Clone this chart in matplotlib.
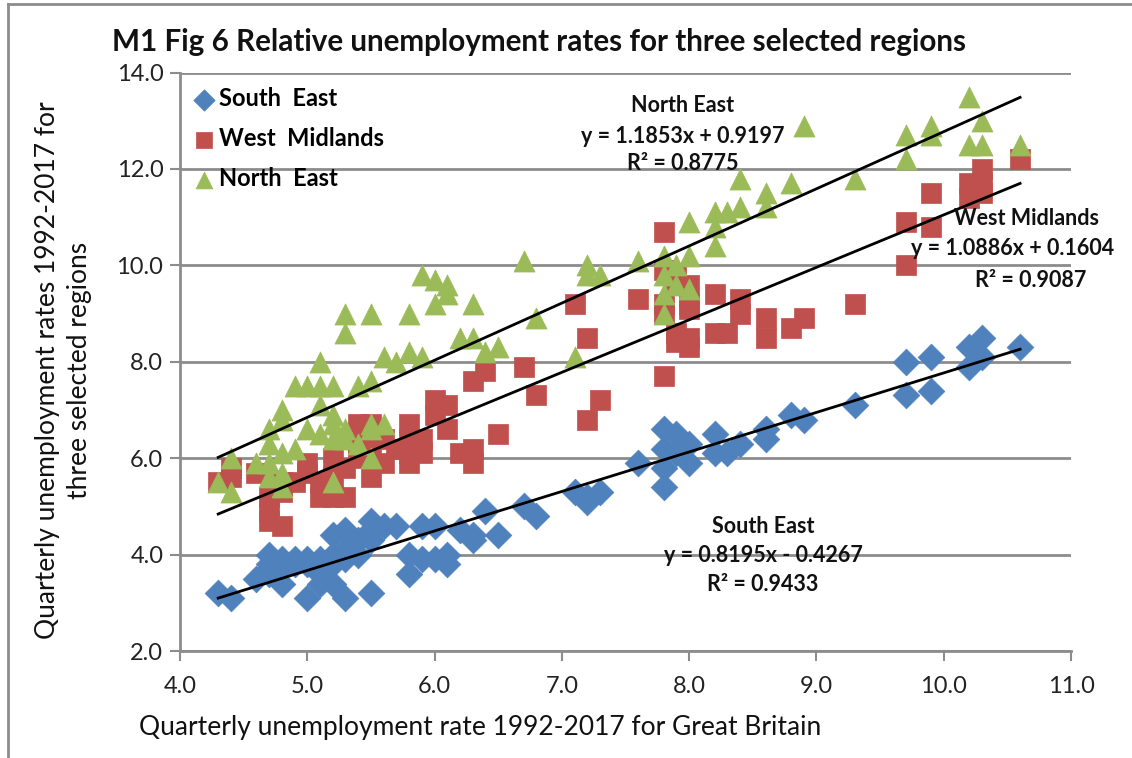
import numpy as np
import matplotlib
matplotlib.use('Agg')
import matplotlib.pyplot as plt
from matplotlib.lines import Line2D

plt.rcParams['font.family'] = ['Lato', 'DejaVu Sans']

# 各地区季度失业率 (x: 英国整体, y: 地区)
se_x = [4.3, 4.4, 4.6, 4.7, 4.7, 4.7, 4.7, 4.8, 4.8, 4.8, 4.9, 4.9, 5.0, 5.0, 5.0,
        5.1, 5.1, 5.1, 5.2, 5.2, 5.2, 5.2, 5.3, 5.3, 5.3, 5.3, 5.4, 5.4, 5.5, 5.5,
        5.5, 5.5, 5.6, 5.7, 5.8, 5.8, 5.9, 5.9, 6.0, 6.0, 6.1, 6.1, 6.2, 6.3, 6.3,
        6.4, 6.5, 6.7, 6.8, 7.1, 7.2, 7.2, 7.3, 7.6, 7.8, 7.8, 7.8, 7.8, 7.9, 7.9,
        8.0, 8.0, 8.2, 8.2, 8.3, 8.4, 8.6, 8.6, 8.8, 8.9, 9.3, 9.7, 9.7, 9.9, 9.9,
        10.2, 10.2, 10.3, 10.3, 10.6]
se_y = [3.2, 3.1, 3.5, 3.7, 3.8, 4.0, 3.6, 3.9, 3.4, 3.7, 3.8, 3.9, 3.1, 3.9, 3.8,
        3.4, 3.9, 3.6, 3.4, 4.4, 4.0, 3.8, 3.1, 4.5, 4.1, 3.9, 4.3, 4.0, 3.2, 4.7,
        4.3, 4.5, 4.6, 4.6, 3.6, 4.0, 3.9, 4.6, 3.9, 4.6, 3.8, 4.0, 4.5, 4.3, 4.4,
        4.9, 4.4, 5.0, 4.8, 5.3, 5.1, 5.2, 5.3, 5.9, 5.4, 5.8, 6.2, 6.6, 6.5, 6.1,
        5.9, 6.3, 6.5, 6.1, 6.1, 6.3, 6.4, 6.6, 6.9, 6.8, 7.1, 7.3, 8.0, 7.4, 8.1,
        7.9, 8.3, 8.1, 8.5, 8.3]

wm_x = [4.3, 4.4, 4.4, 4.6, 4.7, 4.7, 4.7, 4.8, 4.8, 4.8, 4.9, 5.0, 5.0, 5.1, 5.1,
        5.2, 5.2, 5.2, 5.3, 5.3, 5.4, 5.4, 5.4, 5.5, 5.5, 5.5, 5.6, 5.6, 5.7, 5.8,
        5.8, 5.8, 5.8, 5.9, 5.9, 6.0, 6.0, 6.1, 6.1, 6.2, 6.3, 6.3, 6.3, 6.4, 6.5,
        6.7, 6.8, 7.1, 7.2, 7.2, 7.3, 7.6, 7.8, 7.8, 7.8, 7.8, 7.8, 7.9, 7.9, 7.9,
        7.9, 8.0, 8.0, 8.0, 8.0, 8.0, 8.2, 8.2, 8.3, 8.4, 8.4, 8.6, 8.6, 8.8, 8.9,
        9.3, 9.7, 9.7, 9.9, 9.9, 10.2, 10.2, 10.3, 10.3, 10.3, 10.6]
wm_y = [5.5, 5.6, 5.8, 5.7, 4.9, 4.7, 5.2, 4.6, 5.3, 5.5, 5.5, 5.7, 5.9, 5.2, 5.5,
        5.2, 5.6, 6.0, 5.2, 5.8, 6.7, 6.3, 6.0, 5.6, 6.7, 6.2, 5.9, 6.4, 6.2, 5.9,
        6.1, 6.7, 6.4, 6.4, 6.1, 7.2, 6.9, 7.1, 6.6, 6.1, 5.9, 6.2, 7.6, 7.8, 6.5,
        7.9, 7.3, 9.2, 8.5, 6.8, 7.2, 9.3, 7.7, 9.2, 9.0, 9.9, 10.7, 9.6, 8.6, 8.4,
        9.8, 9.2, 8.5, 8.3, 9.6, 9.1, 9.4, 8.6, 8.6, 9.3, 9.0, 8.9, 8.5, 8.7, 8.9,
        9.2, 10.0, 10.9, 10.8, 11.5, 11.4, 11.7, 11.7, 12.0, 11.5, 12.2]

ne_x = [4.3, 4.4, 4.4, 4.6, 4.7, 4.7, 4.7, 4.7, 4.8, 4.8, 4.8, 4.8, 4.8, 4.9, 4.9,
        5.0, 5.0, 5.1, 5.1, 5.1, 5.1, 5.2, 5.2, 5.2, 5.2, 5.2, 5.3, 5.3, 5.3, 5.3,
        5.4, 5.4, 5.5, 5.5, 5.5, 5.5, 5.5, 5.6, 5.6, 5.7, 5.8, 5.8, 5.9, 5.9, 6.0,
        6.0, 6.1, 6.1, 6.2, 6.3, 6.3, 6.4, 6.5, 6.7, 6.8, 7.1, 7.2, 7.2, 7.3, 7.6,
        7.8, 7.8, 7.8, 7.8, 7.9, 7.9, 8.0, 8.0, 8.0, 8.2, 8.2, 8.2, 8.3, 8.4, 8.4,
        8.6, 8.6, 8.8, 8.9, 9.3, 9.7, 9.7, 9.9, 9.9, 10.2, 10.2, 10.3, 10.3, 10.6]
ne_y = [5.5, 6.0, 5.3, 5.9, 5.9, 5.6, 6.3, 6.6, 5.7, 5.4, 6.1, 7.0, 6.8, 6.2, 7.5,
        6.6, 7.5, 6.5, 7.1, 7.5, 8.0, 6.4, 6.7, 6.9, 7.5, 5.5, 6.4, 6.6, 8.6, 9.0,
        6.3, 7.5, 6.0, 6.6, 6.7, 7.6, 9.0, 6.7, 8.1, 8.0, 8.2, 9.0, 8.1, 9.8, 9.7,
        9.2, 9.6, 9.4, 8.5, 9.2, 8.5, 8.2, 8.3, 10.1, 8.9, 8.1, 10.0, 9.8, 9.8, 10.1,
        10.2, 9.8, 9.4, 9.0, 10.0, 9.6, 10.9, 10.2, 9.5, 11.1, 10.8, 10.4, 11.1, 11.8, 11.2,
        11.5, 11.2, 11.7, 12.9, 11.8, 12.7, 12.2, 12.9, 12.7, 13.5, 12.5, 13.0, 12.5, 12.5]

regions = ['South  East', 'West  Midlands', 'North  East']
fit_names = ['South East', 'West Midlands', 'North East']
slopes = [0.8195, 1.0886, 1.1853]
intercepts = [-0.4267, 0.1604, 0.9197]
r2 = [0.9433, 0.9087, 0.8775]

colors = ['#4F81BD', '#C0504D', '#9BBB59']
markers = ['D', 's', '^']
msize = [185, 215, 230]

fig = plt.figure(figsize=(11.32, 7.58), dpi=100)
ax = fig.add_axes([180/1132, 1-651/758, (1071-180)/1132, (651-72.5)/758])

# 网格与坐标轴
grid_c = '#8C8C8C'
ax.set_xlim(4, 11)
ax.set_ylim(2, 14)
ax.set_xticks(np.arange(4, 11.01, 1))
ax.set_yticks(np.arange(2, 14.01, 2))
ax.xaxis.set_major_formatter(plt.FormatStrFormatter('%.1f'))
ax.yaxis.set_major_formatter(plt.FormatStrFormatter('%.1f'))
ax.grid(axis='y', color=grid_c, lw=2)
ax.set_axisbelow(True)
for s in ['top', 'right']:
    ax.spines[s].set_visible(False)
for s in ['left', 'bottom']:
    ax.spines[s].set_color(grid_c)
    ax.spines[s].set_linewidth(2)
ax.tick_params(axis='both', colors=grid_c, width=1.5, length=7, labelsize=17,
               labelcolor='#222222')
ax.tick_params(axis='x', pad=11)
ax.tick_params(axis='y', pad=5)

# 散点
data = [(se_x, se_y), (wm_x, wm_y), (ne_x, ne_y)]
for (xs, ys), c, m, s, lab in zip(data, colors, markers, msize, regions):
    ax.scatter(xs, ys, s=s, marker=m, color=c, edgecolors=c, linewidths=0.5,
               label=lab, zorder=3, clip_on=False)

# 线性趋势线
for (xs, ys), k, b in zip(data, slopes, intercepts):
    tx = np.array([min(xs), max(xs)])
    ax.plot(tx, k*tx + b, color='black', lw=2, zorder=4)

def eq(k, b):
    sign = '+' if b >= 0 else '-'
    return 'y = %.4fx %s %.4f' % (k, sign, abs(b))

tfont = dict(fontsize=15.5, fontweight='bold', color='#111111', zorder=5)

def put(x, y, s):
    ax.text(x, y, s, ha='center', va='center', clip_on=False, **tfont)

put(7.95, 13.31, fit_names[2])
put(7.95, 12.68, eq(slopes[2], intercepts[2]))
put(7.95, 12.12, 'R² = %.4f' % r2[2])
put(10.65, 10.98, fit_names[1])
put(10.54, 10.34, eq(slopes[1], intercepts[1]))
put(10.68, 9.68, 'R² = %.4f' % r2[1])
put(8.58, 4.59, fit_names[0])
put(8.58, 3.99, eq(slopes[0], intercepts[0]))
put(8.58, 3.37, 'R² = %.4f' % r2[0])

leg = ax.legend(loc='upper left', bbox_to_anchor=(0.0, 0.995), frameon=False,
                prop={'weight': 'bold', 'size': 17}, handletextpad=0.15,
                handlelength=1.0, labelspacing=0.72, borderaxespad=0.3,
                scatterpoints=1, markerscale=0.8, borderpad=0.2)

fig.text(112/1132, 1-42/758, 'M1 Fig 6 Relative unemployment rates for three selected regions',
         fontsize=21.3, fontweight='bold', va='center', ha='left', color='#111111')
fig.text(480/1132, 1-727/758, 'Quarterly unemployment rate 1992-2017 for Great Britain',
         fontsize=19, va='center', ha='center', color='#111111')
fig.text(64/1132, 1-370/758, 'Quarterly unemployment rates 1992-2017 for\nthree selected regions',
         fontsize=19, va='center', ha='center', rotation=90, color='#111111',
         linespacing=1.35)

# 外框
fig.add_artist(Line2D([8/1132, 8/1132], [0, 1-4/758], color='#8C8C8C', lw=2,
                      transform=fig.transFigure))
fig.add_artist(Line2D([8/1132, 1], [1-4/758, 1-4/758], color='#8C8C8C', lw=2,
                      transform=fig.transFigure))

fig.savefig('out.png', dpi=100)
